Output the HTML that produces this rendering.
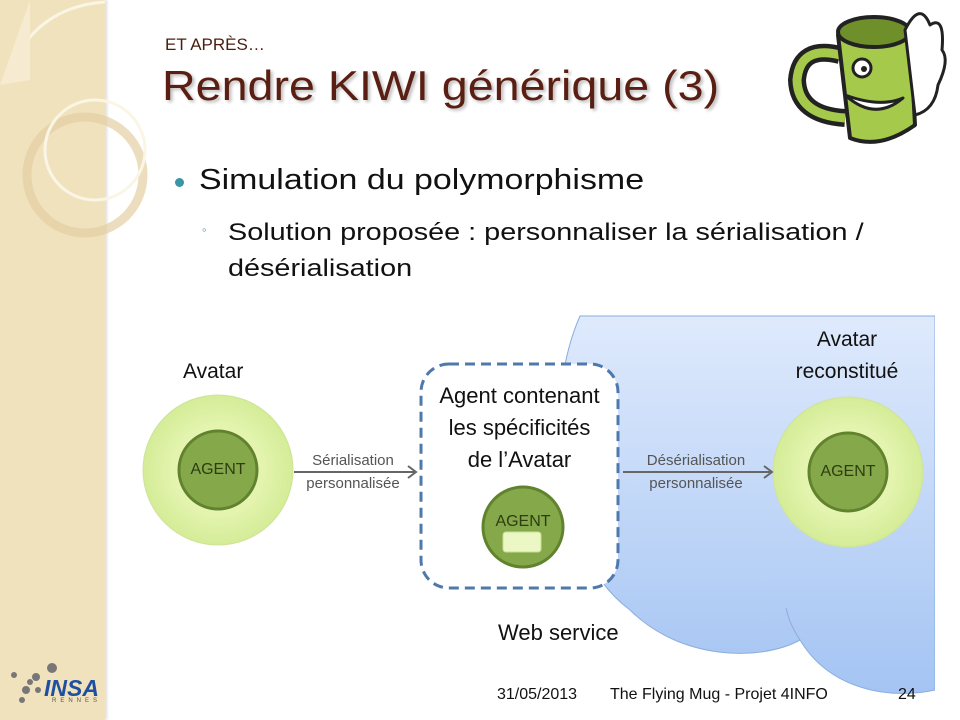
<!DOCTYPE html>
<html><head><meta charset="utf-8"><style>
body{margin:0;width:960px;height:720px;overflow:hidden;background:#fff;font-family:"Liberation Sans",sans-serif;position:relative}
.abs{position:absolute;white-space:nowrap}
.sx{transform-origin:0 0}
</style></head><body>
<div class="abs" style="left:0;top:0;width:105px;height:720px;background:#f1e2be;box-shadow:2px 0 3px #ddd"></div>
<svg class="abs" style="left:0;top:0" width="960" height="720">
 <path d="M10 80 C20 30 60 5 105 2" stroke="#fbf5e6" stroke-width="3" fill="none"/>
 <path d="M0 85 L30 80 L30 0" fill="#f6ebd0"/>
 <circle cx="85" cy="175" r="58" fill="none" stroke="#e3cfa2" stroke-width="9" opacity=".7"/>
 <circle cx="95" cy="150" r="50" fill="none" stroke="#fbf5e6" stroke-width="3"/>
 <defs><linearGradient id="cg" x1="0" y1="0" x2="0" y2="1"><stop offset="0" stop-color="#dfeafc"/><stop offset="1" stop-color="#a4c4f3"/></linearGradient>
 <radialGradient id="lg"><stop offset="0.5" stop-color="#e7f6b4"/><stop offset="1" stop-color="#d4ec97"/></radialGradient></defs>
 <path d="M580 316 L935 316 L935 690 C890 700 830 690 800 640 C760 662 680 660 630 610 C590 580 560 520 560 440 C558 390 565 350 580 316 Z" fill="url(#cg)" stroke="#8aaede" stroke-width="1"/>
 <path d="M800 640 C792 628 788 618 786 608" fill="none" stroke="#8aaede"/>
 <rect x="935" y="300" width="30" height="420" fill="#fff"/>
 <circle cx="218" cy="470" r="75" fill="url(#lg)" stroke="#cfe39a"/>
 <circle cx="218" cy="470" r="39" fill="#85a84a" stroke="#62832d" stroke-width="3"/>
 <circle cx="848" cy="472" r="75" fill="url(#lg)" stroke="#cfe39a"/>
 <circle cx="848" cy="472" r="39" fill="#85a84a" stroke="#62832d" stroke-width="3"/>
 <rect x="421" y="364" width="197" height="224" rx="28" fill="#fff" stroke="#4f79ad" stroke-width="3" stroke-dasharray="10 6"/>
 <circle cx="523" cy="527" r="40" fill="#85a84a" stroke="#62832d" stroke-width="3"/>
 <rect x="503" y="532" width="38" height="20" rx="3" fill="#ecf7c6" stroke="#c9df90"/>
 <g stroke="#666" stroke-width="2" fill="none">
  <line x1="294" y1="472" x2="416" y2="472"/><polyline points="408,466 416,472 408,478"/>
  <line x1="623" y1="472" x2="772" y2="472"/><polyline points="764,466 772,472 764,478"/>
 </g>
 <g fill="#777"><circle cx="52" cy="668" r="5"/><circle cx="36" cy="677" r="4"/><circle cx="14" cy="675" r="3"/><circle cx="26" cy="690" r="4"/><circle cx="22" cy="700" r="3"/><circle cx="38" cy="690" r="3"/><circle cx="30" cy="682" r="3"/></g>
 <g stroke="#222" stroke-width="4" stroke-linejoin="round">
  <path d="M840 55 Q800 45 797 80 Q798 115 845 118" fill="none" stroke-width="18"/>
  <path d="M840 55 Q800 45 797 80 Q798 115 845 118" fill="none" stroke="#a5c94a" stroke-width="9"/>
  <path d="M838 35 Q875 15 910 32 L915 125 Q880 150 850 138 Z" fill="#a5c94a"/>
  <ellipse cx="874" cy="32" rx="36" ry="15" fill="#6e8f2a"/>
  <circle cx="862" cy="68" r="9" fill="#fff" stroke-width="3"/>
  <circle cx="864" cy="69" r="3" fill="#222" stroke="none"/>
  <path d="M845 95 Q875 122 903 98 Q880 108 845 95 Z" fill="#fff" stroke-width="3"/>
  <path d="M905 30 Q920 0 930 25 Q945 15 942 50 Q950 60 938 85 Q935 110 915 115 Z" fill="#fff" stroke-width="3"/>
 </g>
</svg>
<div class="abs" style="left:165px;top:35px;font-size:17px;color:#4a1d10">ET APRÈS…</div>
<div class="abs sx" style="left:162px;top:62px;font-size:42px;color:#5a1f12;text-shadow:2px 2px 3px #bbb;transform:scaleX(1.11)">Rendre KIWI générique (3)</div>
<div class="abs" style="left:175px;top:178px;width:9px;height:9px;border-radius:50%;background:#3a95a8"></div>
<div class="abs sx" style="left:199px;top:164px;font-size:29px;color:#111;transform:scaleX(1.17)">Simulation du polymorphisme</div>
<div class="abs" style="left:202px;top:222px;font-size:13px;color:#3a95a8">◦</div>
<div class="abs sx" style="left:228px;top:215px;font-size:24px;color:#111;line-height:36px;transform:scaleX(1.2)">Solution proposée : personnaliser la sérialisation /<br>désérialisation</div>
<div class="abs" style="left:183px;top:360px;font-size:21px;color:#111">Avatar</div>
<div class="abs" style="left:772px;top:324px;width:150px;text-align:center;font-size:21px;color:#111;line-height:32px">Avatar<br>reconstitué</div>
<div class="abs" style="left:188px;top:461px;width:60px;text-align:center;font-size:16px;color:#2d3d12">AGENT</div>
<div class="abs" style="left:818px;top:463px;width:60px;text-align:center;font-size:16px;color:#2d3d12">AGENT</div>
<div class="abs" style="left:493px;top:513px;width:60px;text-align:center;font-size:16px;color:#2d3d12">AGENT</div>
<div class="abs" style="left:421px;top:380px;width:197px;text-align:center;font-size:22px;color:#111;line-height:32px">Agent contenant<br>les spécificités<br>de l’Avatar</div>
<div class="abs" style="left:293px;top:449px;width:120px;text-align:center;font-size:15px;color:#555;line-height:23px">Sérialisation<br>personnalisée</div>
<div class="abs" style="left:621px;top:449px;width:150px;text-align:center;font-size:15px;color:#555;line-height:23px">Désérialisation<br>personnalisée</div>
<div class="abs" style="left:498px;top:620px;font-size:22px;color:#111">Web service</div>
<div class="abs" style="left:497px;top:686px;font-size:16px;color:#111">31/05/2013</div>
<div class="abs" style="left:610px;top:686px;font-size:16px;color:#111">The Flying Mug - Projet 4INFO</div>
<div class="abs" style="left:898px;top:686px;font-size:16px;color:#111">24</div>
<div class="abs" style="left:44px;top:675px;font-size:23px;font-weight:bold;font-style:italic;color:#1f4fa0">INSA</div>
<div class="abs" style="left:52px;top:698px;font-size:6px;letter-spacing:4px;color:#555">RENNES</div>
</body></html>
